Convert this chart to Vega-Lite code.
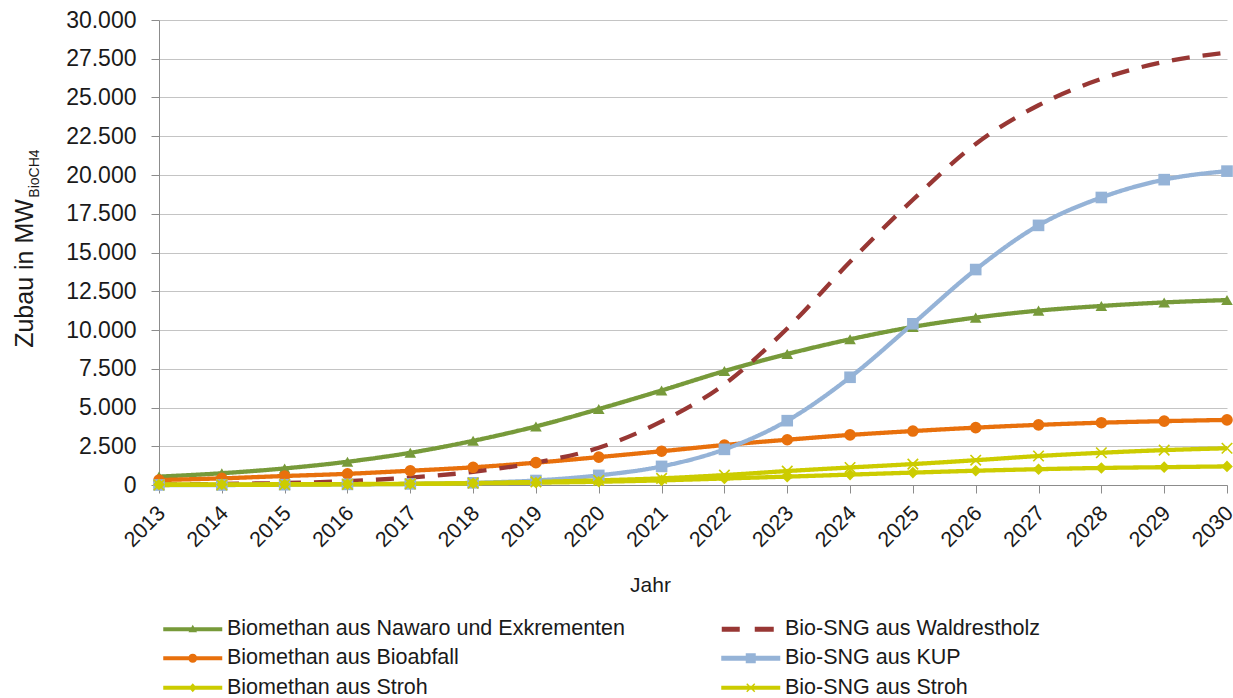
{
  "$schema": "https://vega.github.io/schema/vega-lite/v6.json",
  "width": 1068,
  "height": 465,
  "autosize": {"type": "none"},
  "padding": {"left": 159, "top": 20, "right": 6, "bottom": 213},
  "background": "white",
  "config": {
    "view": {"stroke": null},
    "font": "Liberation Sans",
    "axis": {"labelFont": "Liberation Sans", "titleFont": "Liberation Sans", "labelColor": "#1a1a1a", "titleColor": "#1a1a1a", "titleFontWeight": "normal"}
  },
  "data": {
    "values": [
      {"Jahr": 2013, "Serie": "Biomethan aus Nawaro und Exkrementen", "Wert": 540},
      {"Jahr": 2014, "Serie": "Biomethan aus Nawaro und Exkrementen", "Wert": 760},
      {"Jahr": 2015, "Serie": "Biomethan aus Nawaro und Exkrementen", "Wert": 1070},
      {"Jahr": 2016, "Serie": "Biomethan aus Nawaro und Exkrementen", "Wert": 1500},
      {"Jahr": 2017, "Serie": "Biomethan aus Nawaro und Exkrementen", "Wert": 2080},
      {"Jahr": 2018, "Serie": "Biomethan aus Nawaro und Exkrementen", "Wert": 2850},
      {"Jahr": 2019, "Serie": "Biomethan aus Nawaro und Exkrementen", "Wert": 3780},
      {"Jahr": 2020, "Serie": "Biomethan aus Nawaro und Exkrementen", "Wert": 4900},
      {"Jahr": 2021, "Serie": "Biomethan aus Nawaro und Exkrementen", "Wert": 6100},
      {"Jahr": 2022, "Serie": "Biomethan aus Nawaro und Exkrementen", "Wert": 7350},
      {"Jahr": 2023, "Serie": "Biomethan aus Nawaro und Exkrementen", "Wert": 8450},
      {"Jahr": 2024, "Serie": "Biomethan aus Nawaro und Exkrementen", "Wert": 9400},
      {"Jahr": 2025, "Serie": "Biomethan aus Nawaro und Exkrementen", "Wert": 10200},
      {"Jahr": 2026, "Serie": "Biomethan aus Nawaro und Exkrementen", "Wert": 10800},
      {"Jahr": 2027, "Serie": "Biomethan aus Nawaro und Exkrementen", "Wert": 11250},
      {"Jahr": 2028, "Serie": "Biomethan aus Nawaro und Exkrementen", "Wert": 11550},
      {"Jahr": 2029, "Serie": "Biomethan aus Nawaro und Exkrementen", "Wert": 11780},
      {"Jahr": 2030, "Serie": "Biomethan aus Nawaro und Exkrementen", "Wert": 11930},
      {"Jahr": 2013, "Serie": "Biomethan aus Bioabfall", "Wert": 320},
      {"Jahr": 2014, "Serie": "Biomethan aus Bioabfall", "Wert": 430},
      {"Jahr": 2015, "Serie": "Biomethan aus Bioabfall", "Wert": 580},
      {"Jahr": 2016, "Serie": "Biomethan aus Bioabfall", "Wert": 720},
      {"Jahr": 2017, "Serie": "Biomethan aus Bioabfall", "Wert": 920},
      {"Jahr": 2018, "Serie": "Biomethan aus Bioabfall", "Wert": 1140},
      {"Jahr": 2019, "Serie": "Biomethan aus Bioabfall", "Wert": 1440},
      {"Jahr": 2020, "Serie": "Biomethan aus Bioabfall", "Wert": 1800},
      {"Jahr": 2021, "Serie": "Biomethan aus Bioabfall", "Wert": 2180},
      {"Jahr": 2022, "Serie": "Biomethan aus Bioabfall", "Wert": 2580},
      {"Jahr": 2023, "Serie": "Biomethan aus Bioabfall", "Wert": 2920},
      {"Jahr": 2024, "Serie": "Biomethan aus Bioabfall", "Wert": 3230},
      {"Jahr": 2025, "Serie": "Biomethan aus Bioabfall", "Wert": 3480},
      {"Jahr": 2026, "Serie": "Biomethan aus Bioabfall", "Wert": 3700},
      {"Jahr": 2027, "Serie": "Biomethan aus Bioabfall", "Wert": 3880},
      {"Jahr": 2028, "Serie": "Biomethan aus Bioabfall", "Wert": 4020},
      {"Jahr": 2029, "Serie": "Biomethan aus Bioabfall", "Wert": 4120},
      {"Jahr": 2030, "Serie": "Biomethan aus Bioabfall", "Wert": 4200},
      {"Jahr": 2013, "Serie": "Bio-SNG aus Waldrestholz", "Wert": 40},
      {"Jahr": 2014, "Serie": "Bio-SNG aus Waldrestholz", "Wert": 70},
      {"Jahr": 2015, "Serie": "Bio-SNG aus Waldrestholz", "Wert": 130},
      {"Jahr": 2016, "Serie": "Bio-SNG aus Waldrestholz", "Wert": 250},
      {"Jahr": 2017, "Serie": "Bio-SNG aus Waldrestholz", "Wert": 480},
      {"Jahr": 2018, "Serie": "Bio-SNG aus Waldrestholz", "Wert": 850},
      {"Jahr": 2019, "Serie": "Bio-SNG aus Waldrestholz", "Wert": 1450},
      {"Jahr": 2020, "Serie": "Bio-SNG aus Waldrestholz", "Wert": 2400},
      {"Jahr": 2021, "Serie": "Bio-SNG aus Waldrestholz", "Wert": 4100},
      {"Jahr": 2022, "Serie": "Bio-SNG aus Waldrestholz", "Wert": 6500},
      {"Jahr": 2023, "Serie": "Bio-SNG aus Waldrestholz", "Wert": 10100},
      {"Jahr": 2024, "Serie": "Bio-SNG aus Waldrestholz", "Wert": 14400},
      {"Jahr": 2025, "Serie": "Bio-SNG aus Waldrestholz", "Wert": 18400},
      {"Jahr": 2026, "Serie": "Bio-SNG aus Waldrestholz", "Wert": 22000},
      {"Jahr": 2027, "Serie": "Bio-SNG aus Waldrestholz", "Wert": 24500},
      {"Jahr": 2028, "Serie": "Bio-SNG aus Waldrestholz", "Wert": 26200},
      {"Jahr": 2029, "Serie": "Bio-SNG aus Waldrestholz", "Wert": 27300},
      {"Jahr": 2030, "Serie": "Bio-SNG aus Waldrestholz", "Wert": 27900},
      {"Jahr": 2013, "Serie": "Bio-SNG aus KUP", "Wert": 0},
      {"Jahr": 2014, "Serie": "Bio-SNG aus KUP", "Wert": 0},
      {"Jahr": 2015, "Serie": "Bio-SNG aus KUP", "Wert": 20},
      {"Jahr": 2016, "Serie": "Bio-SNG aus KUP", "Wert": 40},
      {"Jahr": 2017, "Serie": "Bio-SNG aus KUP", "Wert": 70},
      {"Jahr": 2018, "Serie": "Bio-SNG aus KUP", "Wert": 140},
      {"Jahr": 2019, "Serie": "Bio-SNG aus KUP", "Wert": 290},
      {"Jahr": 2020, "Serie": "Bio-SNG aus KUP", "Wert": 620},
      {"Jahr": 2021, "Serie": "Bio-SNG aus KUP", "Wert": 1200},
      {"Jahr": 2022, "Serie": "Bio-SNG aus KUP", "Wert": 2300},
      {"Jahr": 2023, "Serie": "Bio-SNG aus KUP", "Wert": 4150},
      {"Jahr": 2024, "Serie": "Bio-SNG aus KUP", "Wert": 6950},
      {"Jahr": 2025, "Serie": "Bio-SNG aus KUP", "Wert": 10400},
      {"Jahr": 2026, "Serie": "Bio-SNG aus KUP", "Wert": 13900},
      {"Jahr": 2027, "Serie": "Bio-SNG aus KUP", "Wert": 16750},
      {"Jahr": 2028, "Serie": "Bio-SNG aus KUP", "Wert": 18550},
      {"Jahr": 2029, "Serie": "Bio-SNG aus KUP", "Wert": 19700},
      {"Jahr": 2030, "Serie": "Bio-SNG aus KUP", "Wert": 20250},
      {"Jahr": 2013, "Serie": "Bio-SNG aus Stroh", "Wert": 0},
      {"Jahr": 2014, "Serie": "Bio-SNG aus Stroh", "Wert": 10},
      {"Jahr": 2015, "Serie": "Bio-SNG aus Stroh", "Wert": 20},
      {"Jahr": 2016, "Serie": "Bio-SNG aus Stroh", "Wert": 40},
      {"Jahr": 2017, "Serie": "Bio-SNG aus Stroh", "Wert": 70},
      {"Jahr": 2018, "Serie": "Bio-SNG aus Stroh", "Wert": 120},
      {"Jahr": 2019, "Serie": "Bio-SNG aus Stroh", "Wert": 200},
      {"Jahr": 2020, "Serie": "Bio-SNG aus Stroh", "Wert": 300},
      {"Jahr": 2021, "Serie": "Bio-SNG aus Stroh", "Wert": 430},
      {"Jahr": 2022, "Serie": "Bio-SNG aus Stroh", "Wert": 640},
      {"Jahr": 2023, "Serie": "Bio-SNG aus Stroh", "Wert": 900},
      {"Jahr": 2024, "Serie": "Bio-SNG aus Stroh", "Wert": 1130},
      {"Jahr": 2025, "Serie": "Bio-SNG aus Stroh", "Wert": 1350},
      {"Jahr": 2026, "Serie": "Bio-SNG aus Stroh", "Wert": 1600},
      {"Jahr": 2027, "Serie": "Bio-SNG aus Stroh", "Wert": 1870},
      {"Jahr": 2028, "Serie": "Bio-SNG aus Stroh", "Wert": 2080},
      {"Jahr": 2029, "Serie": "Bio-SNG aus Stroh", "Wert": 2250},
      {"Jahr": 2030, "Serie": "Bio-SNG aus Stroh", "Wert": 2370},
      {"Jahr": 2013, "Serie": "Biomethan aus Stroh", "Wert": 30},
      {"Jahr": 2014, "Serie": "Biomethan aus Stroh", "Wert": 40},
      {"Jahr": 2015, "Serie": "Biomethan aus Stroh", "Wert": 50},
      {"Jahr": 2016, "Serie": "Biomethan aus Stroh", "Wert": 60},
      {"Jahr": 2017, "Serie": "Biomethan aus Stroh", "Wert": 80},
      {"Jahr": 2018, "Serie": "Biomethan aus Stroh", "Wert": 110},
      {"Jahr": 2019, "Serie": "Biomethan aus Stroh", "Wert": 150},
      {"Jahr": 2020, "Serie": "Biomethan aus Stroh", "Wert": 210},
      {"Jahr": 2021, "Serie": "Biomethan aus Stroh", "Wert": 300},
      {"Jahr": 2022, "Serie": "Biomethan aus Stroh", "Wert": 420},
      {"Jahr": 2023, "Serie": "Biomethan aus Stroh", "Wert": 540},
      {"Jahr": 2024, "Serie": "Biomethan aus Stroh", "Wert": 670},
      {"Jahr": 2025, "Serie": "Biomethan aus Stroh", "Wert": 800},
      {"Jahr": 2026, "Serie": "Biomethan aus Stroh", "Wert": 920},
      {"Jahr": 2027, "Serie": "Biomethan aus Stroh", "Wert": 1020},
      {"Jahr": 2028, "Serie": "Biomethan aus Stroh", "Wert": 1100},
      {"Jahr": 2029, "Serie": "Biomethan aus Stroh", "Wert": 1150},
      {"Jahr": 2030, "Serie": "Biomethan aus Stroh", "Wert": 1200}
    ]
  },
  "layer": [
    {
      "mark": {"type": "line", "interpolate": "monotone", "strokeWidth": 4.3},
      "encoding": {
        "x": {
          "field": "Jahr", "type": "quantitative",
          "scale": {"domain": [2013, 2030], "nice": false, "zero": false},
          "axis": {
            "values": [2013, 2014, 2015, 2016, 2017, 2018, 2019, 2020, 2021, 2022, 2023, 2024, 2025, 2026, 2027, 2028, 2029, 2030],
            "format": "d", "grid": false, "labelAngle": -45, "labelFontSize": 21.5, "labelPadding": 9, "labelFlush": false, "labelAlign": "right", "labelBaseline": "top", "labelOffset": -5,
            "tickSize": 8, "tickColor": "#8c8c8c", "domainColor": "#8c8c8c",
            "title": "Jahr", "titleFontSize": 21, "titleX": 491, "titleY": 106, "titleBaseline": "alphabetic", "titleAlign": "center"
          }
        },
        "y": {
          "field": "Wert", "type": "quantitative",
          "scale": {"domain": [0, 30000], "nice": false},
          "axis": {
            "values": [0, 2500, 5000, 7500, 10000, 12500, 15000, 17500, 20000, 22500, 25000, 27500, 30000],
            "labelExpr": "replace(format(datum.value, ','), ',', '.')",
            "labelFontSize": 23, "labelPadding": 15, "tickSize": 8, "tickColor": "#8c8c8c", "domainColor": "#8c8c8c",
            "grid": true, "gridColor": "#c4c4c4", "gridWidth": 1,
            "title": "Zubau in MW", "titleFontSize": 25, "titleAngle": -90, "titleAlign": "center", "titleBaseline": "alphabetic",
            "titleX": -127, "titleY": 253
          }
        },
        "color": {
          "field": "Serie", "type": "nominal",
          "scale": {
            "domain": ["Biomethan aus Nawaro und Exkrementen", "Biomethan aus Bioabfall", "Biomethan aus Stroh", "Bio-SNG aus Waldrestholz", "Bio-SNG aus KUP", "Bio-SNG aus Stroh"],
            "range": ["#779a3a", "#e8700c", "#cccc00", "#983734", "#95b3d7", "#cccc00"]
          },
          "legend": {
            "title": null, "orient": "none", "legendX": 23, "legendY": 598, "columns": 2, "columnPadding": 96, "rowPadding": 6.5,
            "padding": 0, "gridAlign": "each", "labelFontSize": 21.5, "labelFont": "Liberation Sans", "labelColor": "#1a1a1a",
            "labelLimit": 800, "labelOffset": 23.5, "symbolSize": 100, "symbolStrokeWidth": 0,
            "encode": {
              "symbols": {
                "update": {
                  "shape": {"signal": "datum.value === 'Biomethan aus Nawaro und Exkrementen' ? 'M-5.9,-0.4L5.9,-0.4L5.9,0.4L-5.9,0.4Z M0,-0.9L0.85,0.6L-0.85,0.6Z' : datum.value === 'Bio-SNG aus Waldrestholz' ? 'M-5.8,-0.5L-2.2,-0.5L-2.2,0.5L-5.8,0.5Z M0.8,-0.5L4.6,-0.5L4.6,0.5L0.8,0.5Z' : datum.value === 'Biomethan aus Bioabfall' ? 'M-5.9,-0.4L5.9,-0.4L5.9,0.4L-5.9,0.4Z M-0.9,0A0.9,0.9 0 1,1 0.9,0A0.9,0.9 0 1,1 -0.9,0Z' : datum.value === 'Bio-SNG aus KUP' ? 'M-5.9,-0.5L5.9,-0.5L5.9,0.5L-5.9,0.5Z M-1,-1L1,-1L1,1L-1,1Z' : datum.value === 'Biomethan aus Stroh' ? 'M-5.9,-0.4L5.9,-0.4L5.9,0.4L-5.9,0.4Z M0,-0.9L0.8,0L0,0.9L-0.8,0Z' : 'M-5.9,-0.4L5.9,-0.4L5.9,0.4L-5.9,0.4Z M-0.9,-0.7L-0.7,-0.9L0.9,0.7L0.7,0.9Z M0.7,-0.9L0.9,-0.7L-0.7,0.9L-0.9,0.7Z'"},
                  "fill": {"signal": "scale('color', datum.value)"},
                  "stroke": {"value": "transparent"},
                  "strokeWidth": {"value": 0},
                  "strokeDash": {"value": [1, 0]},
                  "opacity": {"value": 1}
                }
              }
            }
          }
        },
        "strokeDash": {
          "field": "Serie", "type": "nominal",
          "scale": {
            "domain": ["Biomethan aus Nawaro und Exkrementen", "Biomethan aus Bioabfall", "Biomethan aus Stroh", "Bio-SNG aus Waldrestholz", "Bio-SNG aus KUP", "Bio-SNG aus Stroh"],
            "range": [[1, 0], [1, 0], [1, 0], [18, 13], [1, 0], [1, 0]]
          },
          "legend": null
        }
      }
    },
    {
      "transform": [{"filter": "datum.Serie !== 'Bio-SNG aus Waldrestholz'"}],
      "mark": {"type": "point", "filled": true, "size": 135, "opacity": 1, "strokeWidth": 0},
      "encoding": {
        "x": {"field": "Jahr", "type": "quantitative"},
        "y": {
          "field": "Wert", "type": "quantitative",
          "axis": {
            "orient": "right", "labels": false, "ticks": false, "domain": false, "grid": false,
            "title": "BioCH4", "titleFontSize": 14, "titleAngle": -90, "titleAlign": "center", "titleBaseline": "alphabetic",
            "titleX": -1189, "titleY": 153
          }
        },
        "color": {"field": "Serie", "type": "nominal", "legend": null},
        "shape": {
          "field": "Serie", "type": "nominal",
          "scale": {
            "domain": ["Biomethan aus Nawaro und Exkrementen", "Biomethan aus Bioabfall", "Bio-SNG aus KUP", "Biomethan aus Stroh", "Bio-SNG aus Stroh"],
            "range": ["triangle-up", "circle", "square", "diamond", "M-1,-0.8L-0.8,-1L1,0.8L0.8,1Z M0.8,-1L1,-0.8L-0.8,1L-1,0.8Z"]
          },
          "legend": null
        }
      }
    }
  ],
  "resolve": {"axis": {"y": "independent"}}
}
